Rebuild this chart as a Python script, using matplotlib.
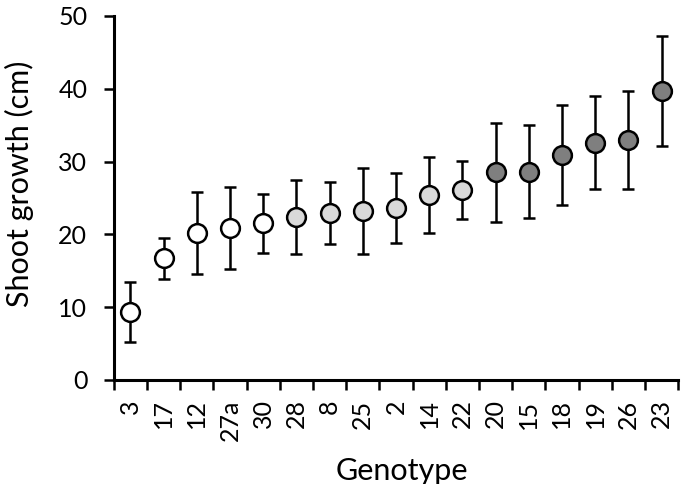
import matplotlib.pyplot as plt
import numpy as np

# Genotypes sorted by mean shoot growth
genotypes = ['3', '17', '12', '27a', '30', '28', '8', '25', '2',
             '14', '22', '20', '15', '18', '19', '26', '23']
growth = [9.3, 16.7, 20.2, 20.9, 21.5, 22.4, 22.9, 23.2, 23.6,
          25.4, 26.1, 28.5, 28.6, 30.9, 32.6, 33.0, 39.7]
error = [4.15, 2.85, 5.6, 5.65, 4.0, 5.05, 4.25, 5.95, 4.8,
         5.25, 3.95, 6.75, 6.4, 6.85, 6.4, 6.75, 7.6]
groups = ['white'] * 5 + ['light'] * 6 + ['dark'] * 6
group_colors = {'white': '#ffffff', 'light': '#d9d9d9', 'dark': '#7f7f7f'}

plt.rcParams['font.family'] = ['Lato', 'DejaVu Sans']

fig = plt.figure(figsize=(6.85, 4.84), dpi=100)
ax = fig.add_axes([0.166, 0.215, 0.824, 0.752])

x = np.arange(len(genotypes))

# Error bars first, then markers on top
ax.errorbar(x, growth, yerr=error, fmt='none', ecolor='black',
            elinewidth=1.8, capsize=4.5, capthick=1.8, zorder=2)
for xi, yi, g in zip(x, growth, groups):
    ax.plot(xi, yi, 'o', markersize=13.5, markerfacecolor=group_colors[g],
            markeredgecolor='black', markeredgewidth=1.8, zorder=3)

ax.set_xlim(-0.5, len(genotypes) - 0.5)
ax.set_ylim(0, 50)
ax.set_yticks(range(0, 51, 10))

# Category labels at centres, tick marks between categories
ax.set_xticks(x)
ax.set_xticklabels(genotypes, rotation=90, fontsize=18)
ax.tick_params(axis='x', which='major', length=0, pad=14)
ax.set_xticks(np.arange(-0.5, len(genotypes)), minor=True)
ax.tick_params(axis='x', which='minor', length=7, width=1.8, direction='out')
ax.tick_params(axis='y', length=7, width=1.8, direction='out', labelsize=18, pad=12)

for side in ['top', 'right']:
    ax.spines[side].set_visible(False)
for side in ['left', 'bottom']:
    ax.spines[side].set_linewidth(2.2)

ax.set_xlabel('Genotype', fontsize=22, va='center')
ax.xaxis.set_label_coords(0.51, -0.25)
ax.set_ylabel('Shoot growth (cm)', fontsize=22, va='center')
ax.yaxis.set_label_coords(-0.167, 0.54)

fig.savefig('out.png', dpi=100)
